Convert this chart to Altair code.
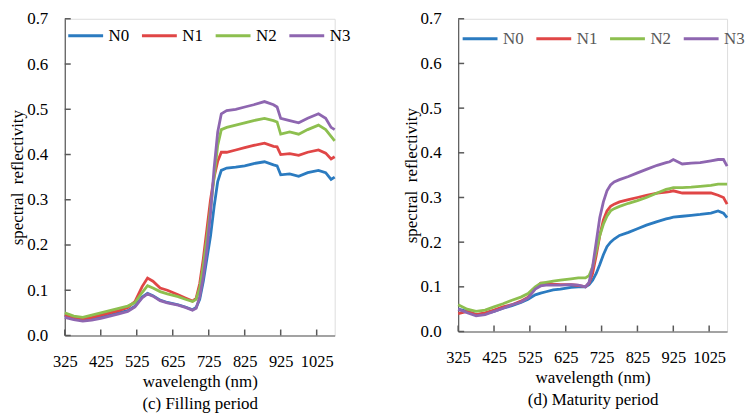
import altair as alt
import pandas as pd

WL = [325, 350, 375, 400, 425, 450, 475, 500, 520, 540, 555, 570, 590, 610, 640,
      660, 680, 690, 700, 710, 720, 730, 740, 750, 760, 775, 800, 825, 850, 880,
      905, 915, 925, 950, 975, 1000, 1030, 1050, 1065, 1075]

# (c) Filling period
C_N0 = [0.045, 0.038, 0.034, 0.036, 0.040, 0.045, 0.050, 0.055, 0.065, 0.085, 0.093, 0.088, 0.078, 0.073, 0.068,
        0.063, 0.057, 0.062, 0.080, 0.120, 0.170, 0.220, 0.285, 0.340, 0.365, 0.370, 0.372, 0.375, 0.380, 0.384,
        0.377, 0.375, 0.355, 0.357, 0.352, 0.360, 0.365, 0.360, 0.345, 0.350]
C_N1 = [0.045, 0.040, 0.037, 0.040, 0.045, 0.050, 0.055, 0.062, 0.075, 0.108, 0.127, 0.120, 0.105, 0.100, 0.090,
        0.083, 0.076, 0.082, 0.115, 0.170, 0.235, 0.300, 0.350, 0.385, 0.405, 0.405, 0.410, 0.415, 0.420, 0.425,
        0.418, 0.417, 0.400, 0.402, 0.398, 0.405, 0.410, 0.403, 0.390, 0.395]
C_N2 = [0.050, 0.043, 0.040, 0.045, 0.050, 0.055, 0.060, 0.065, 0.073, 0.095, 0.110, 0.105, 0.097, 0.092, 0.086,
        0.080, 0.075, 0.080, 0.105, 0.155, 0.215, 0.280, 0.350, 0.420, 0.455, 0.460, 0.465, 0.470, 0.475, 0.480,
        0.475, 0.472, 0.445, 0.450, 0.445, 0.455, 0.465, 0.455, 0.440, 0.430]
C_N3 = [0.040, 0.035, 0.032, 0.034, 0.038, 0.043, 0.048, 0.053, 0.063, 0.083, 0.092, 0.087, 0.077, 0.072, 0.067,
        0.062, 0.056, 0.060, 0.085, 0.130, 0.190, 0.270, 0.370, 0.450, 0.490, 0.497, 0.500, 0.505, 0.510, 0.517,
        0.510, 0.505, 0.480, 0.475, 0.470, 0.480, 0.490, 0.480, 0.460, 0.455]

# (d) Maturity period
D_N0 = [0.050, 0.045, 0.038, 0.040, 0.045, 0.052, 0.058, 0.065, 0.072, 0.082, 0.086, 0.089, 0.093, 0.095, 0.099,
        0.100, 0.100, 0.105, 0.115, 0.130, 0.150, 0.172, 0.190, 0.200, 0.207, 0.215, 0.222, 0.230, 0.238, 0.246,
        0.252, 0.254, 0.256, 0.258, 0.260, 0.262, 0.265, 0.270, 0.265, 0.255]
D_N1 = [0.040, 0.045, 0.038, 0.042, 0.048, 0.055, 0.060, 0.068, 0.077, 0.097, 0.108, 0.108, 0.106, 0.105, 0.105,
        0.103, 0.100, 0.108, 0.130, 0.170, 0.215, 0.250, 0.270, 0.280, 0.285, 0.290, 0.295, 0.300, 0.305, 0.310,
        0.312, 0.313, 0.315, 0.310, 0.310, 0.310, 0.310, 0.305, 0.300, 0.285]
D_N2 = [0.060, 0.050, 0.045, 0.048, 0.055, 0.062, 0.070, 0.077, 0.085, 0.100, 0.108, 0.110, 0.113, 0.115, 0.118,
        0.120, 0.120, 0.125, 0.145, 0.180, 0.215, 0.240, 0.258, 0.270, 0.275, 0.280, 0.287, 0.293, 0.300, 0.310,
        0.318, 0.320, 0.322, 0.322, 0.323, 0.325, 0.327, 0.330, 0.330, 0.330]
D_N3 = [0.050, 0.042, 0.035, 0.038, 0.045, 0.052, 0.060, 0.066, 0.075, 0.095, 0.102, 0.104, 0.104, 0.104, 0.105,
        0.104, 0.100, 0.110, 0.145, 0.200, 0.255, 0.290, 0.315, 0.328, 0.335, 0.340, 0.347, 0.355, 0.363, 0.372,
        0.378, 0.380, 0.385, 0.375, 0.377, 0.378, 0.382, 0.385, 0.385, 0.370]

SERIES = ["N0", "N1", "N2", "N3"]
COLORS = ["#2b7bc0", "#e04646", "#8dbf4f", "#8e66b0"]
XTICKS = [325, 425, 525, 625, 725, 825, 925, 1025]
YTICKS = [0.0, 0.1, 0.2, 0.3, 0.4, 0.5, 0.6, 0.7]

FONT = "Liberation Serif"
AXIS_COLOR = "#595959"


def long_df(cols):
    rows = []
    for name, vals in zip(SERIES, cols):
        for w, v in zip(WL, vals):
            rows.append({"wavelength": w, "reflectivity": v, "series": name})
    return pd.DataFrame(rows)


def panel(cols, subtitle, w, h, legend_color, lx, ly):
    df = long_df(cols)
    xscale = alt.Scale(domain=[325, 1075], nice=False, zero=False)
    yscale = alt.Scale(domain=[0, 0.7], nice=False)
    xaxis = alt.Axis(values=XTICKS, format="d", ticks=False, tickSize=0,
                     grid=False, labelPadding=18, labelFontSize=16.5,
                     labelFont=FONT, labelColor="black", labelOverlap=False,
                     labelFlush=False, labelBound=False,
                     title=["wavelength (nm)", subtitle],
                     titleFont=FONT, titleFontSize=17, titleFontWeight="normal",
                     titleColor="black", titlePadding=4, titleLineHeight=22,
                     domainColor=AXIS_COLOR, domainWidth=1.2)
    yaxis = alt.Axis(values=YTICKS, format=".1f", ticks=False, tickSize=0,
                     grid=False, labelPadding=17, labelFontSize=17,
                     labelFont=FONT, labelColor="black", labelOverlap=False,
                     title="spectral\u00a0\u00a0reflectivity",
                     titleFont=FONT, titleFontSize=17, titleFontWeight="normal",
                     titleColor="black", titlePadding=0,
                     domainColor=AXIS_COLOR, domainWidth=1.2)
    lines = alt.Chart(df).mark_line(strokeWidth=2.8).encode(
        x=alt.X("wavelength:Q", scale=xscale, axis=xaxis),
        y=alt.Y("reflectivity:Q", scale=yscale, axis=yaxis),
        color=alt.Color("series:N",
                        scale=alt.Scale(domain=SERIES, range=COLORS),
                        legend=alt.Legend(orient="none", legendX=lx, legendY=ly,
                                          direction="horizontal", title=None,
                                          symbolType="stroke", symbolSize=1225,
                                          symbolStrokeWidth=3, labelFont=FONT,
                                          labelFontSize=17, labelColor=legend_color,
                                          labelOffset=4, columnPadding=6,
                                          padding=0)),
    )
    xt = alt.Chart(pd.DataFrame({"wavelength": XTICKS})).mark_tick(
        color=AXIS_COLOR, thickness=1.5, size=6, opacity=1).encode(
        x=alt.X("wavelength:Q", scale=xscale, axis=xaxis), y=alt.value(h - 3))
    yt = alt.Chart(pd.DataFrame({"reflectivity": YTICKS})).mark_tick(
        color=AXIS_COLOR, thickness=1.5, size=6, opacity=1).encode(
        y=alt.Y("reflectivity:Q", scale=yscale, axis=yaxis), x=alt.value(3))
    return alt.layer(lines, xt, yt).properties(width=w, height=h)


left = panel([C_N0, C_N1, C_N2, C_N3], "(c) Filling period", 271, 318, "black", 2, -2)
right = panel([D_N0, D_N1, D_N2, D_N3], "(d) Maturity period", 270, 314, "#595959", 3, 1)

chart = alt.hconcat(left, right, spacing=124, bounds="flush").resolve_scale(
    color="independent", x="independent", y="independent"
).resolve_legend(color="independent").properties(
    padding={"top": 0, "left": 0, "right": 0, "bottom": 0}
).configure_view(stroke=None).configure(background="white")

chart.save("out.html", embed_options={"renderer": "svg", "actions": False})
